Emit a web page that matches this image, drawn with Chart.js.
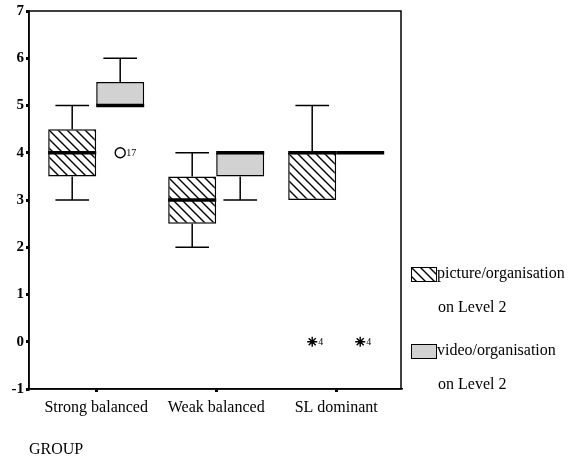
<!DOCTYPE html>
<html>
<head>
<meta charset="utf-8">
<script src="https://cdn.jsdelivr.net/npm/chart.js@4.4.1/dist/chart.umd.min.js"></script>
<style>
  html, body { margin: 0; padding: 0; background: #fff; }
  #wrap { width: 570px; height: 462px; }
</style>
</head>
<body>
<div id="wrap"><canvas id="chart" width="570" height="462"></canvas></div>
<script>
// groups on the x axis
const groups = ["Strong balanced", "Weak balanced", "SL dominant"];
const yTicks = [-1, 0, 1, 2, 3, 4, 5, 6, 7];

// picture/organisation on Level 2
const pictureBox = [[3.5, 4.5], [2.5, 3.5], [3, 4]];
const pictureMedian = [4, 3, 4];
const pictureWhisker = [[3, 5], [2, 4], [3, 5]];
const pictureOutliers = [{ group: 2, value: 0, label: "4", kind: "extreme" }];

// video/organisation on Level 2
const videoBox = [[5, 5.5], [3.5, 4], [4, 4]];
const videoMedian = [5, 4, 4];
const videoWhisker = [[5, 6], [3, 4], [4, 4]];
const videoOutliers = [
  { group: 0, value: 4, label: "17", kind: "outlier" },
  { group: 2, value: 0, label: "4", kind: "extreme" },
];

const legendLabels = [["picture/organisation", "on Level 2"], ["video/organisation", "on Level 2"]];

const CAT_PCT = 0.8;
const OFFSET = CAT_PCT / 4; // centre of each box relative to the group
const SERIF = "'Liberation Serif', 'Times New Roman', serif";
const GREY = "#d2d2d2";

function makeHatch() {
  const s = 9;
  const c = document.createElement("canvas");
  c.width = s; c.height = s;
  const g = c.getContext("2d");
  g.fillStyle = "#fff";
  g.fillRect(0, 0, s, s);
  g.strokeStyle = "#000";
  g.lineWidth = 1.4;
  g.beginPath();
  g.moveTo(0, 0); g.lineTo(s, s);
  g.moveTo(-2, s - 2); g.lineTo(2, s + 2);
  g.moveTo(s - 2, -2); g.lineTo(s + 2, 2);
  g.stroke();
  return g.createPattern(c, "repeat");
}
const hatch = makeHatch();

const series = [
  { box: pictureBox, median: pictureMedian, whisker: pictureWhisker },
  { box: videoBox, median: videoMedian, whisker: videoWhisker },
];

const toPoints = (list, side) => list.map((o) => ({ x: o.group + side * OFFSET, y: o.value }));

const boxPlotPlugin = {
  id: "boxplot",
  beforeDatasetsDraw(chart) {
    const { ctx, chartArea } = chart;
    ctx.save();
    ctx.strokeStyle = "#000";
    ctx.lineWidth = 1.5;
    ctx.strokeRect(chartArea.left, chartArea.top, chartArea.right - chartArea.left, chartArea.bottom - chartArea.top);
    ctx.restore();
  },
  afterDatasetsDraw(chart) {
    const ctx = chart.ctx;
    const y = chart.scales.y;
    ctx.save();
    ctx.strokeStyle = "#000";
    ctx.lineCap = "butt";
    series.forEach((s, di) => {
      const meta = chart.getDatasetMeta(di);
      meta.data.forEach((bar, i) => {
        const half = bar.width / 2;
        const cap = bar.width * 0.35;
        const [lo, hi] = s.whisker[i];
        const [q1, q3] = s.box[i];
        ctx.lineWidth = 1.5;
        ctx.beginPath();
        if (hi > q3) {
          ctx.moveTo(bar.x, y.getPixelForValue(q3));
          ctx.lineTo(bar.x, y.getPixelForValue(hi));
          ctx.moveTo(bar.x - cap, y.getPixelForValue(hi));
          ctx.lineTo(bar.x + cap, y.getPixelForValue(hi));
        }
        if (lo < q1) {
          ctx.moveTo(bar.x, y.getPixelForValue(q1));
          ctx.lineTo(bar.x, y.getPixelForValue(lo));
          ctx.moveTo(bar.x - cap, y.getPixelForValue(lo));
          ctx.lineTo(bar.x + cap, y.getPixelForValue(lo));
        }
        ctx.stroke();
        ctx.lineWidth = 3.5;
        ctx.beginPath();
        ctx.moveTo(bar.x - half, y.getPixelForValue(s.median[i]));
        ctx.lineTo(bar.x + half, y.getPixelForValue(s.median[i]));
        ctx.stroke();
      });
    });
    // case numbers next to outliers
    ctx.fillStyle = "#000";
    ctx.font = "10px " + SERIF;
    ctx.textBaseline = "middle";
    [[2, pictureOutliers], [3, videoOutliers]].forEach(([di, list]) => {
      const meta = chart.getDatasetMeta(di);
      meta.data.forEach((pt, i) => {
        ctx.fillText(list[i].label, pt.x + 6, pt.y + 1);
      });
    });
    ctx.restore();
  },
  afterDraw(chart) {
    const { ctx, chartArea } = chart;
    const x0 = chartArea.right + 10;
    const rows = [264, 341];
    const fills = [hatch, GREY];
    ctx.save();
    rows.forEach((top, i) => {
      ctx.fillStyle = fills[i];
      ctx.fillRect(x0, top + 3, 26, 15);
      ctx.strokeStyle = "#000";
      ctx.lineWidth = 1;
      ctx.strokeRect(x0 + 0.5, top + 3.5, 25, 14);
      ctx.fillStyle = "#000";
      ctx.font = "16px " + SERIF;
      ctx.textBaseline = "middle";
      ctx.fillText(legendLabels[i][0], x0 + 26, top + 10);
      ctx.fillText(legendLabels[i][1], x0 + 27, top + 44);
    });
    ctx.restore();
  },
};

new Chart(document.getElementById("chart"), {
  type: "bar",
  data: {
    datasets: [
      {
        label: legendLabels[0].join(" "),
        data: groups.map((g, i) => ({ x: i, y: pictureBox[i] })),
        backgroundColor: hatch,
        borderColor: "#000",
        borderWidth: 1.5,
        borderSkipped: false,
        categoryPercentage: CAT_PCT,
        barPercentage: 1,
      },
      {
        label: legendLabels[1].join(" "),
        data: groups.map((g, i) => ({ x: i, y: videoBox[i] })),
        backgroundColor: GREY,
        borderColor: "#000",
        borderWidth: 1.5,
        borderSkipped: false,
        categoryPercentage: CAT_PCT,
        barPercentage: 1,
      },
      {
        type: "scatter",
        data: toPoints(pictureOutliers, -1),
        pointStyle: pictureOutliers.map((o) => (o.kind === "extreme" ? "star" : "circle")),
        pointRadius: 5,
        borderColor: "#000",
        backgroundColor: "#fff",
        borderWidth: 1.4,
      },
      {
        type: "scatter",
        data: toPoints(videoOutliers, 1),
        pointStyle: videoOutliers.map((o) => (o.kind === "extreme" ? "star" : "circle")),
        pointRadius: 5,
        borderColor: "#000",
        backgroundColor: "#fff",
        borderWidth: 1.4,
      },
    ],
  },
  options: {
    responsive: false,
    animation: false,
    layout: { padding: { top: 11, right: 169, left: 0, bottom: 0 } },
    plugins: {
      legend: { display: false },
      tooltip: { enabled: false },
    },
    scales: {
      x: {
        type: "linear",
        offset: false,
        min: -0.56,
        max: 2.54,
        afterBuildTicks: (axis) => {
          axis.ticks = groups.map((g, i) => ({ value: i }));
        },
        afterFit: (axis) => { axis.height = 73; },
        ticks: {
          callback: (v) => groups[v],
          color: "#000",
          font: { family: SERIF, size: 16 },
          padding: 6,
          maxRotation: 0,
          autoSkip: false,
        },
        grid: { offset: false, drawOnChartArea: false, color: "#000", tickLength: 3, lineWidth: 3 },
        border: { color: "#000", width: 1.5 },
        title: {
          display: true,
          text: "GROUP",
          align: "start",
          color: "#000",
          font: { family: SERIF, size: 16 },
          padding: { top: 0, bottom: 3 },
        },
      },
      y: {
        min: yTicks[0],
        max: yTicks[yTicks.length - 1],
        afterBuildTicks: (axis) => {
          axis.ticks = yTicks.map((v) => ({ value: v }));
        },
        afterFit: (axis) => { axis.width = 29; },
        ticks: {
          color: "#000",
          font: { family: SERIF, size: 15, weight: "bold" },
          padding: 2,
        },
        grid: { drawOnChartArea: false, color: "#000", tickLength: 3, lineWidth: 3 },
        border: { color: "#000", width: 1.5 },
      },
    },
  },
  plugins: [boxPlotPlugin],
});
</script>
</body>
</html>
